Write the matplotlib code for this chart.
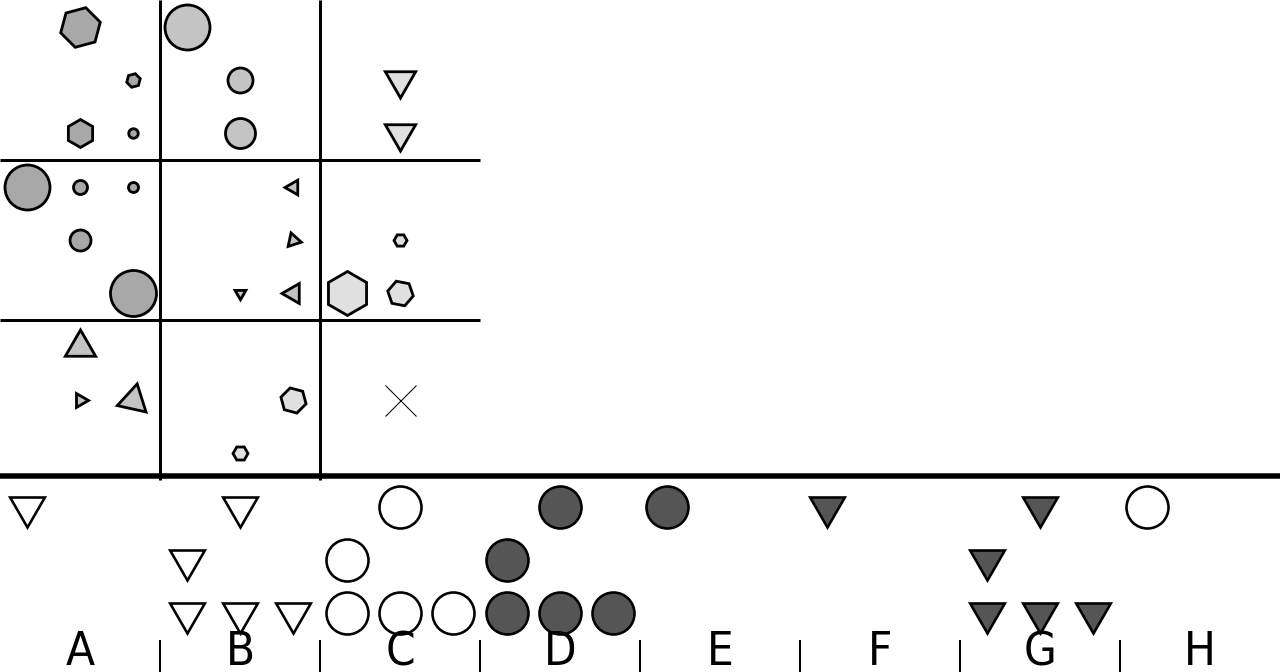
import matplotlib
matplotlib.use("Agg")
import matplotlib.pyplot as plt

# top panel: 3x3 cells, each split in 3x3 slots -> 9x9 slot grid
top_col = [1, 2, 1, 2, 3, 4, 4, 7, 7, 0, 1, 2, 1, 2, 5, 5, 4, 5, 7, 6, 7, 1, 1, 2, 5, 4, 7]
top_row = [0, 1, 2, 2, 0, 1, 2, 1, 2, 3, 3, 3, 4, 5, 3, 4, 5, 5, 4, 5, 5, 6, 7, 7, 7, 8, 7]
top_shape = ["hex", "hex", "hex", "circle", "circle", "circle", "circle", "tri", "tri",
             "circle", "circle", "circle", "circle", "circle", "tri", "tri", "tri", "tri",
             "hex", "hex", "hex", "tri", "tri", "tri", "hex", "hex", "cross"]
top_value = [41, 14, 28, 9.5, 45, 25, 30, 35, 35, 45, 14, 10, 21, 46, 17, 16, 12.5, 23,
             13, 44, 26, 35, 16, 34, 26, 15, 31]
top_angle = [-15, -15, 0, 0, 0, 0, 0, 180, 180, 0, 0, 0, 0, 0, 90, -102, 180, 90,
             30, 0, 19, 0, -90, -12.5, 15, 30, 0]
top_tone = [0, 0, 0, 0, 1, 1, 1, 2, 2, 0, 0, 0, 0, 0, 1, 1, 1, 1,
            2, 2, 2, 1, 1, 1, 2, 2, 2]

# bottom panel: dot counts per category
categories = ["A", "B", "C", "D", "E", "F", "G", "H"]
bot_cat = [0, 1, 1, 1, 1, 1, 2, 2, 2, 2, 2, 3, 3, 3, 3, 3, 4, 5, 6, 6, 6, 6, 6, 7]
bot_slot = [0, 1, 0, 0, 1, 2, 1, 0, 0, 1, 2, 1, 0, 0, 1, 2, 0, 0, 1, 0, 0, 1, 2, 0]
bot_row = [0, 0, 1, 2, 2, 2, 0, 1, 2, 2, 2, 0, 1, 2, 2, 2, 0, 0, 0, 1, 2, 2, 2, 0]
bot_shape = ["tri"] * 6 + ["circle"] * 5 + ["circle"] * 5 + ["circle", "tri"] + ["tri"] * 5 + ["circle"]
bot_dark = [0] * 6 + [0] * 5 + [1] * 5 + [1, 1] + [1] * 5 + [0]

tones = ["#a8a8a8", "#c4c4c4", "#e0e0e0"]
PX = 0.72  # points per pixel at dpi 100


def marker_for(shape, angle):
    if shape == "hex":
        return (6, 0, angle)
    if shape == "tri":
        return (3, 0, angle)
    if shape == "cross":
        return "x"
    return "o"


fig = plt.figure(figsize=(12.8, 6.72), dpi=100)
ax = fig.add_axes([0, 0, 1, 1])
ax.set_xlim(0, 24)
ax.set_ylim(12.6, 0)
ax.axis("off")

# grid lines of the top panel
for v in [3, 6]:
    ax.plot([v, v], [0, 9], color="black", lw=3 * PX, solid_capstyle="butt")
    ax.plot([0, 9], [v, v], color="black", lw=3 * PX, solid_capstyle="butt")
ax.plot([0, 24], [8.93, 8.93], color="black", lw=5.5 * PX, solid_capstyle="butt")

for i in range(len(top_col)):
    x = top_col[i] + 0.5
    y = top_row[i] + 0.5
    m = marker_for(top_shape[i], top_angle[i])
    if top_shape[i] == "cross":
        ax.plot(x, y, marker="x", ms=top_value[i] * PX, mec="black", mew=1 * PX,
                ls="none", clip_on=False)
    else:
        ax.plot(x, y, marker=m, ms=top_value[i] * PX, mfc=tones[top_tone[i]],
                mec="black", mew=2.8 * PX, ls="none", clip_on=False)

for i in range(len(bot_cat)):
    x = bot_cat[i] * 3 + bot_slot[i] + 0.5
    y = 9 + bot_row[i] + 0.5
    if bot_shape[i] == "tri":
        m, size = (3, 0, 180), 40
    else:
        m, size = "o", 42
    fill = "#555555" if bot_dark[i] else "white"
    ax.plot(x, y, marker=m, ms=size * PX, mfc=fill, mec="black", mew=2.6 * PX,
            ls="none", clip_on=False)

# category axis
for k in range(1, len(categories)):
    ax.plot([3 * k, 3 * k], [12, 12.6], color="black", lw=2 * PX, solid_capstyle="butt",
            clip_on=False)
for k, c in enumerate(categories):
    ax.text(3 * k + 1.5, 12.47, c, ha="center", va="baseline", fontsize=34,
            family="DejaVu Sans", fontstretch="condensed")

fig.savefig("out.png", dpi=100)
